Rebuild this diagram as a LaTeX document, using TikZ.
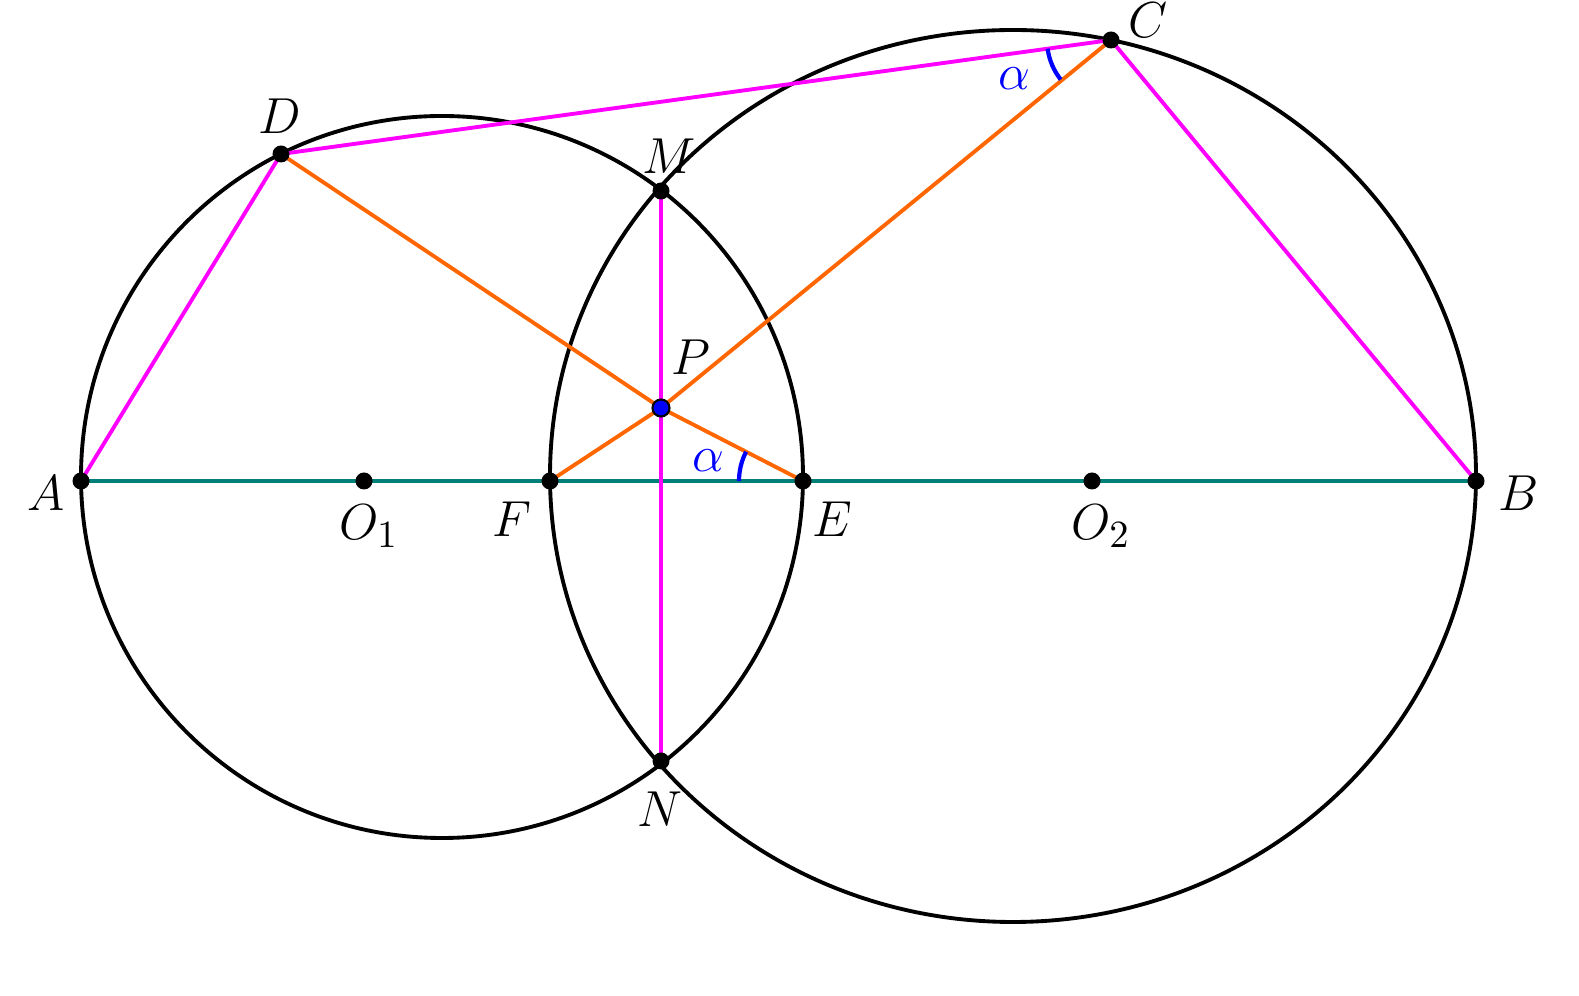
\documentclass[tikz,border=0pt]{standalone}
\usepackage{xcolor}
\usepackage{tikz}
\usetikzlibrary{angles}
\definecolor{gmorange}{RGB}{255, 102, 0}
\definecolor{gmteal}{RGB}{0, 128, 120}
\definecolor{gmpink}{RGB}{255, 0, 255}
\definecolor{gmblue}{RGB}{0, 0, 255}

\begin{document}
\begin{tikzpicture}[
  every node/.style={font=\fontsize{15}{18}\selectfont},
  circ/.style={line width=1.1pt, black},
  seg/.style={line width=1.1pt},
  dot/.style={fill=black},
  anglemark/.style={draw=gmblue, line width=1.2pt, angle radius=6.4mm}
]
\useasboundingbox (0,0) rectangle (15.79,9.96);

% points
\coordinate (A) at (0.81,5.15);
\coordinate (O1) at (3.64,5.15);
\coordinate (F) at (5.50,5.15);
\coordinate (E) at (8.03,5.15);
\coordinate (O2) at (10.92,5.15);
\coordinate (B) at (14.76,5.15);
\coordinate (D) at (2.81,8.42);
\coordinate (M) at (6.61,8.05);
\coordinate (P) at (6.61,5.88);
\coordinate (N) at (6.61,2.35);
\coordinate (C) at (11.11,9.56);

% the two circles
\draw[circ] (4.42,5.19) circle (3.61);
\draw[circ] (10.13,5.20) ellipse [x radius=4.63, y radius=4.46];

% diameter line
\draw[seg, gmteal] (A) -- (B);

% chords
\draw[seg, gmpink] (A) -- (D) -- (C) -- (B);
\draw[seg, gmpink] (M) -- (N);
\draw[seg, gmorange] (D) -- (P) -- (E);
\draw[seg, gmorange] (C) -- (P) -- (F);

% equal angles
\pic[anglemark] {angle = P--E--A};
\pic[anglemark] {angle = D--C--F};
\node[text=gmblue] (aE) at (7.08,5.35) {$\alpha$};
\node[text=gmblue] (aC) at (10.14,9.17) {$\alpha$};

% dots
\foreach \p in {A,O1,F,E,O2,B,D,M,N,C}
  \fill[dot] (\p) circle (0.085);
\filldraw[fill=gmblue, draw=black, line width=0.6pt] (P) circle (0.085);

% labels
\node (lA) at (0.46,5.03) {$A$};
\node (lO1) at (3.69,4.70) {$O_1$};
\node (lF) at (5.12,4.77) {$F$};
\node (lE) at (8.32,4.77) {$E$};
\node (lO2) at (11.01,4.70) {$O_2$};
\node (lB) at (15.19,5.03) {$B$};
\node (lD) at (2.80,8.80) {$D$};
\node (lM) at (6.69,8.40) {$M$};
\node (lP) at (6.91,6.39) {$P$};
\node (lN) at (6.60,1.87) {$N$};
\node (lC) at (11.48,9.76) {$C$};
\end{tikzpicture}
\end{document}
